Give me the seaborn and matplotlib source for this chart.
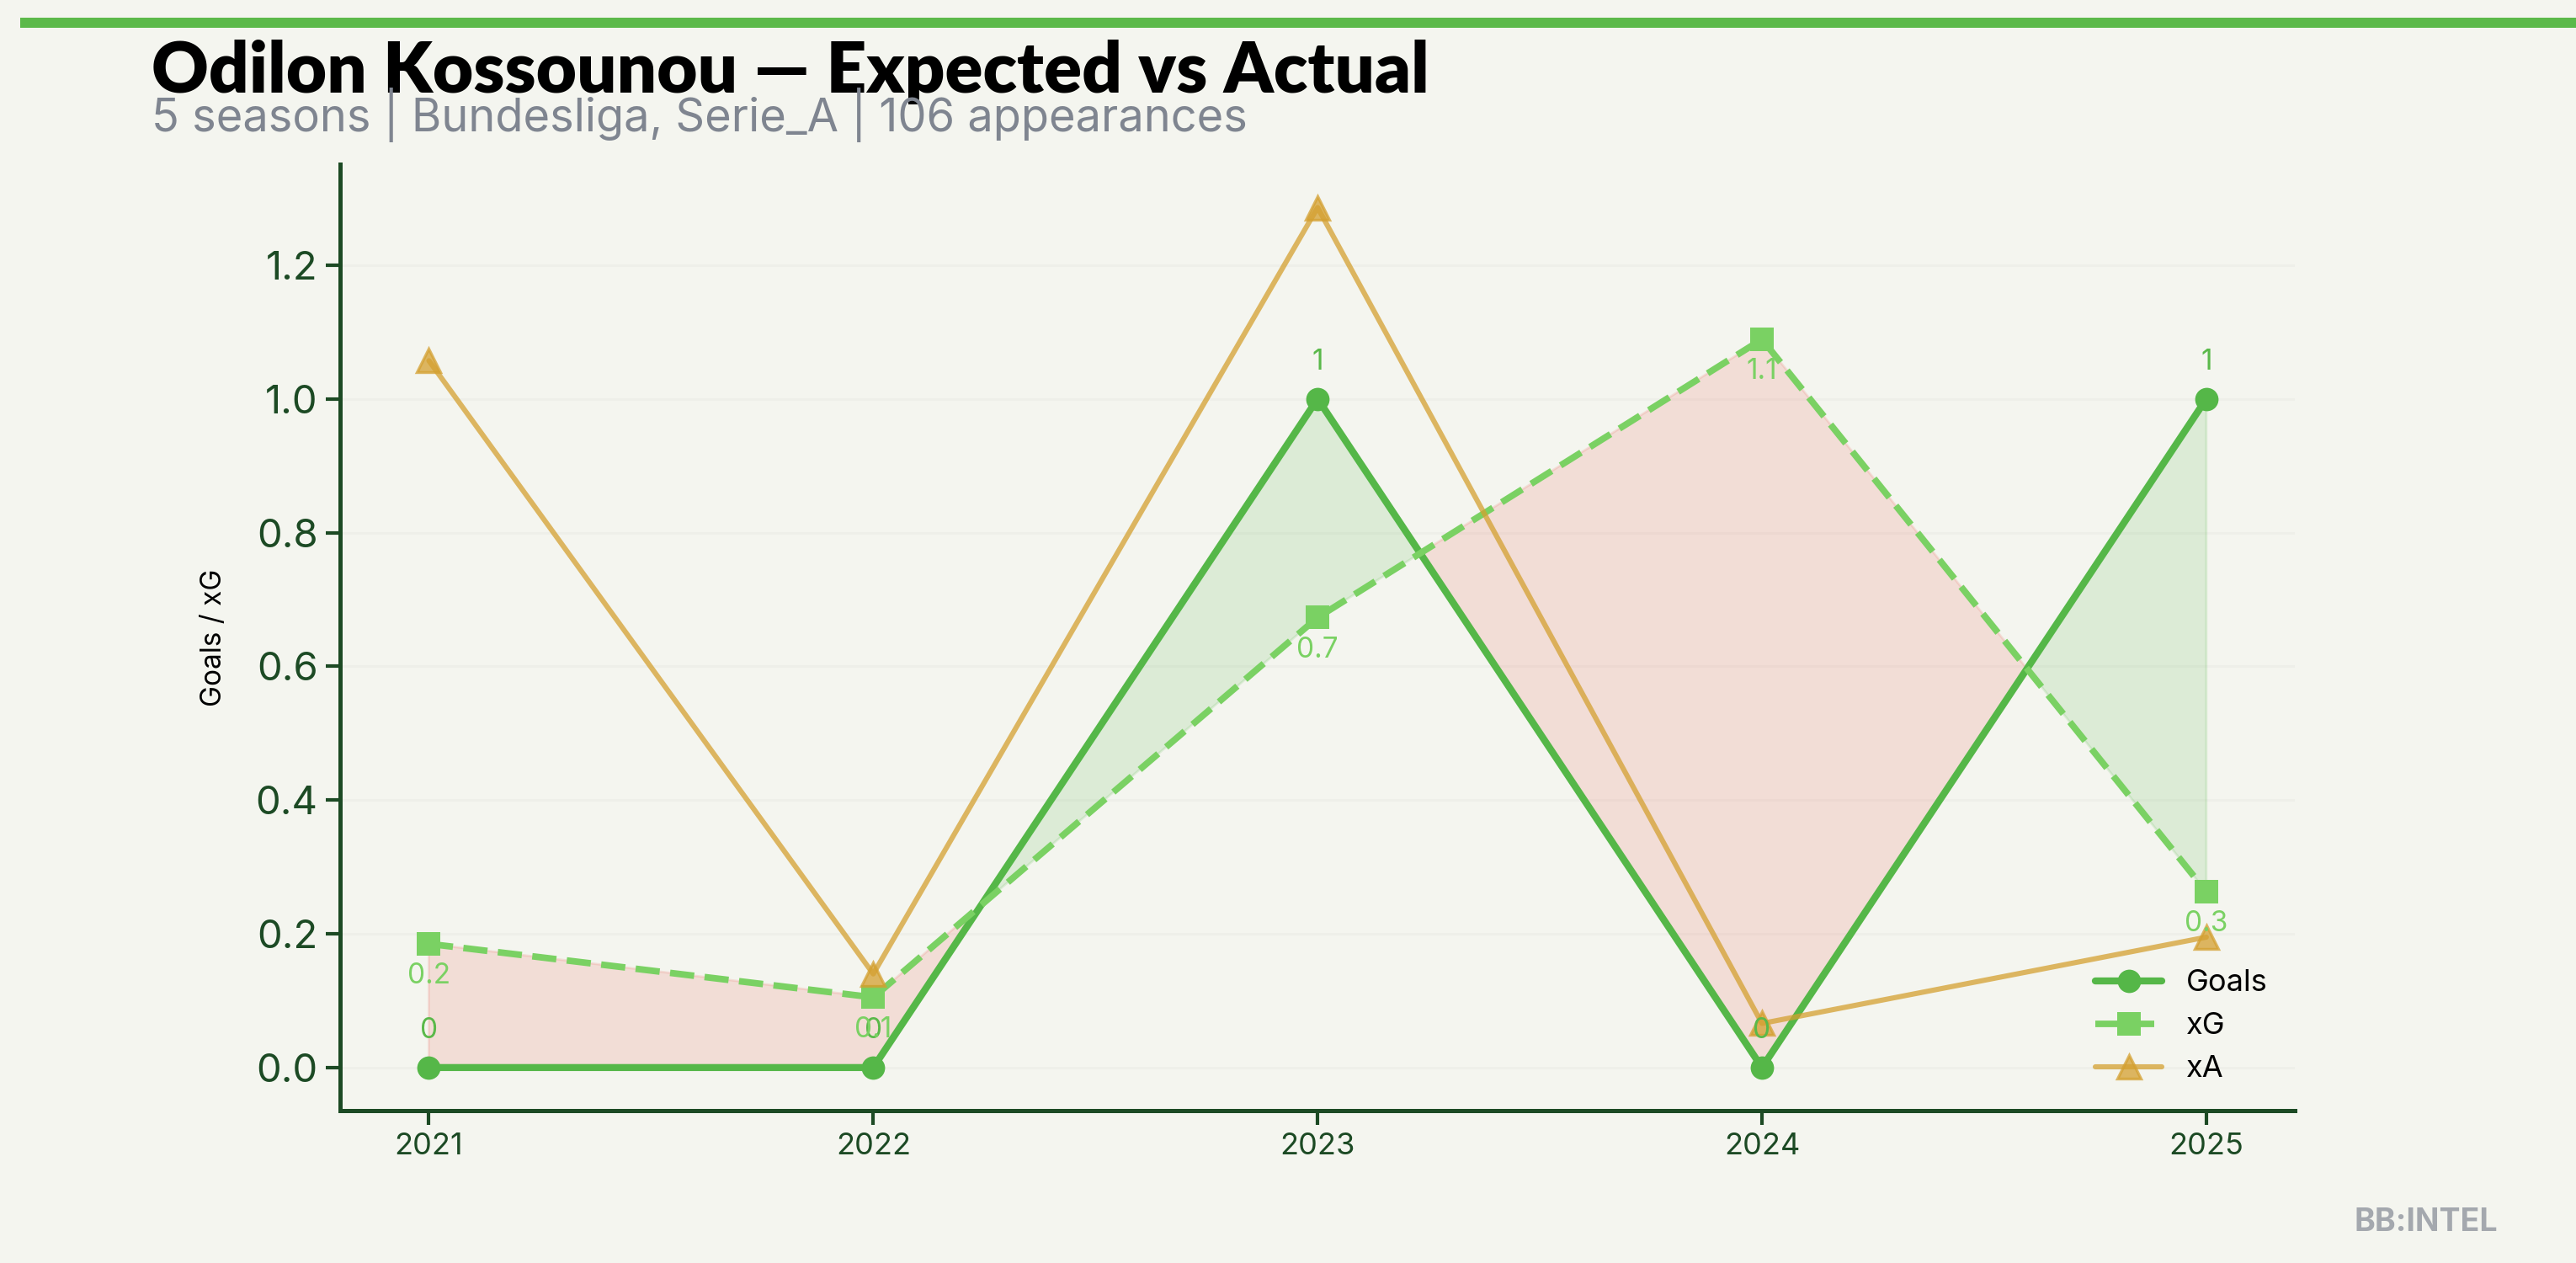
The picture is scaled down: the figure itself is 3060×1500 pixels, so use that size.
import numpy as np
import pandas as pd
import matplotlib
matplotlib.use("Agg")
import matplotlib.pyplot as plt
import seaborn as sns

# ---- data ----
seasons = [2021, 2022, 2023, 2024, 2025]
goals = [0, 0, 1, 0, 1]
xg = [0.185, 0.105, 0.673, 1.089, 0.263]
xa = [1.057, 0.140, 1.286, 0.066, 0.195]
goal_labels = ["0", "0", "1", "0", "1"]
xg_labels = ["0.2", "0.1", "0.7", "1.1", "0.3"]

title = "Odilon Kossounou \u2014 Expected vs Actual"
subtitle = "5 seasons | Bundesliga, Serie_A | 106 appearances"

BG = "#f4f5ef"
GOALS_C = "#55b748"
XG_C = "#7ad163"
XA_C = "#d4a030"
DARK = "#1c4a24"

sns.set_style("ticks")
plt.rcParams["font.family"] = ["Inter", "DejaVu Sans"]

df = pd.DataFrame({"season": seasons, "goals": goals, "xg": xg, "xa": xa})

fig = plt.figure(figsize=(15.3, 7.5), dpi=200, facecolor=BG)
ax = fig.add_axes([0.132, 0.1207, 0.759, 0.749])
ax.set_facecolor(BG)

# fills
x = np.array(seasons, dtype=float)
g = np.array(goals, dtype=float)
e = np.array(xg, dtype=float)
ax.fill_between(x, g, e, where=g >= e, interpolate=True, color=GOALS_C, alpha=0.15, lw=1)
ax.fill_between(x, g, e, where=g < e, interpolate=True, color="#e8574a", alpha=0.15, lw=1)

sns.lineplot(data=df, x="season", y="goals", ax=ax, color=GOALS_C, lw=3,
             marker="o", markersize=10, markeredgewidth=0, label="Goals")
sns.lineplot(data=df, x="season", y="xg", ax=ax, color=XG_C, lw=2.8,
             linestyle="--", marker="s", markersize=10, markeredgewidth=0, label="xG")
sns.lineplot(data=df, x="season", y="xa", ax=ax, color=XA_C, lw=2.2, alpha=0.75,
             marker="^", markersize=10, markeredgewidth=1.2, markeredgecolor=XA_C, label="xA")

for xi, yi, lab in zip(seasons, goals, goal_labels):
    ax.annotate(lab, (xi, yi), xytext=(0, 10), textcoords="offset points",
                ha="center", va="bottom", fontsize=12, color="#5ab94a")
for xi, yi, lab in zip(seasons, xg, xg_labels):
    ax.annotate(lab, (xi, yi), xytext=(0, -8), textcoords="offset points",
                ha="center", va="top", fontsize=12, color=XG_C)

ax.set_xticks(seasons)
ax.set_xticklabels([str(s) for s in seasons])
ax.set_yticks([0.0, 0.2, 0.4, 0.6, 0.8, 1.0, 1.2])
ax.set_yticklabels(["0.0", "0.2", "0.4", "0.6", "0.8", "1.0", "1.2"])
ax.tick_params(axis="x", labelsize=13, colors=DARK, length=6, width=1.5)
ax.tick_params(axis="y", labelsize=17, colors=DARK, length=6, width=1.5)
ax.set_xlabel("")
ax.set_ylabel("Goals / xG", fontsize=12, color="black", labelpad=12)
ax.yaxis.grid(True, color="#eeefe9", lw=1)
ax.set_axisbelow(True)
sns.despine(ax=ax)
for s in ["left", "bottom"]:
    ax.spines[s].set_color(DARK)
    ax.spines[s].set_linewidth(1.8)

leg = ax.legend(loc="lower right", frameon=False, fontsize=13, handlelength=2.2)
for t in leg.get_texts():
    t.set_color("black")

# header
fig.add_artist(plt.Rectangle((0.0078, 0.978), 0.9922, 0.008, transform=fig.transFigure,
                             color="#5cb94a", lw=0))
fig.text(0.0588, 0.927, title, fontsize=30, fontweight="heavy", color="black",
         family=["Lato", "DejaVu Sans"], ha="left", va="baseline")
fig.text(0.0588, 0.896, subtitle, fontsize=19.5, color="#7f8590", ha="left", va="baseline")
fig.text(0.9696, 0.0253, "BB:INTEL", fontsize=13.5, fontweight="bold", color="#a4a8ae",
         ha="right", va="baseline")

fig.savefig("out.png", dpi=200, facecolor=BG)
